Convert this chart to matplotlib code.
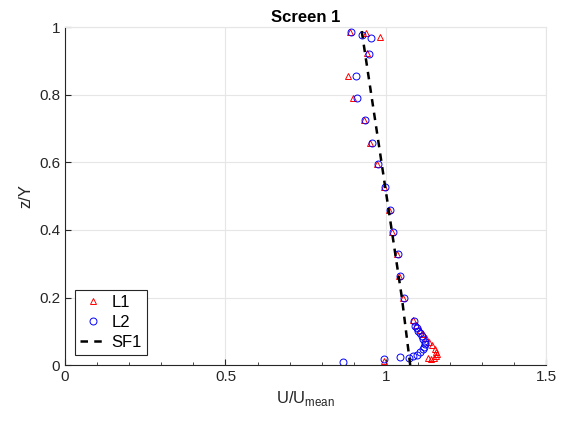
import numpy as np
import matplotlib
matplotlib.use('Agg')
from matplotlib import pyplot as plt
from matplotlib.ticker import MultipleLocator

plt.rcParams['font.family'] = ['Liberation Sans', 'DejaVu Sans']

# L1 (triangles)
l1_u = [0.889, 0.939, 0.982, 0.942, 0.882, 0.898, 0.932, 0.951, 0.973, 0.995,
        1.010, 1.020, 1.035, 1.041, 1.054, 1.085, 1.095, 1.105, 1.115, 1.125,
        1.135, 1.145, 1.153, 1.158, 1.160, 1.158, 1.150, 1.140, 1.130, 0.995]
l1_z = [0.985, 0.982, 0.970, 0.923, 0.855, 0.790, 0.725, 0.657, 0.595, 0.527,
        0.459, 0.393, 0.328, 0.263, 0.198, 0.133, 0.118, 0.104, 0.092, 0.080,
        0.068, 0.058, 0.048, 0.040, 0.032, 0.026, 0.021, 0.017, 0.022, 0.012]

# L2 (circles)
l2_u = [0.891, 0.926, 0.954, 0.948, 0.907, 0.910, 0.935, 0.957, 0.976, 0.997,
        1.012, 1.022, 1.037, 1.043, 1.056, 1.088, 1.091, 1.097, 1.100, 1.106,
        1.112, 1.115, 1.122, 1.122, 1.119, 1.116, 1.107, 1.097, 1.085, 1.073,
        1.045, 0.995, 0.867]
l2_z = [0.985, 0.976, 0.967, 0.920, 0.855, 0.790, 0.725, 0.657, 0.595, 0.527,
        0.459, 0.393, 0.328, 0.263, 0.198, 0.130, 0.115, 0.109, 0.101, 0.095,
        0.087, 0.078, 0.069, 0.062, 0.053, 0.047, 0.038, 0.031, 0.026, 0.020,
        0.024, 0.017, 0.009]

# SF1 profile
sf_u = [1.076, 1.050, 0.923]
sf_z = [0.0, 0.200, 1.0]

fig = plt.figure(figsize=(5.66, 4.25), dpi=100)
ax = fig.add_axes([0.115, 0.141, 0.85, 0.795])

ax.plot(l1_u, l1_z, '^', mfc='none', mec='#ff0000', ms=5, mew=0.7, label='L1')
ax.plot(l2_u, l2_z, 'o', mfc='none', mec='#0000ff', ms=5, mew=0.7, label='L2')
ax.plot(sf_u, sf_z, '--', color='black', lw=1.8, dashes=(3, 2.5), label='SF1')

ax.set_xlim(0, 1.5)
ax.set_ylim(0, 1)
ax.set_xticks([0, 0.5, 1, 1.5])
ax.set_xticklabels(['0', '0.5', '1', '1.5'])
ax.set_yticks(np.arange(0, 1.01, 0.2))
ax.set_yticklabels(['0', '0.2', '0.4', '0.6', '0.8', '1'])
ax.xaxis.set_minor_locator(MultipleLocator(0.1))
ax.grid(True, color='#e6e6e6', lw=0.8)
ax.set_axisbelow(True)
ax.tick_params(direction='in', labelsize=11, colors='#262626', length=4)
ax.tick_params(which='minor', direction='in', length=2, color='#262626')
for s in ['top', 'right']:
    ax.spines[s].set_color('#e6e6e6')
for s in ['left', 'bottom']:
    ax.spines[s].set_color('#262626')

ax.set_title('Screen 1', fontsize=12, fontweight='bold', pad=4)
ax.set_xlabel(r'U/U$_{\mathregular{mean}}$', fontsize=12, color='#262626')
ax.set_ylabel('z/Y', fontsize=12, color='#262626')

leg = ax.legend(loc='lower left', fontsize=12, fancybox=False, edgecolor='#262626',
                handlelength=1.6, handletextpad=0.3, borderpad=0.3,
                labelspacing=0.3, borderaxespad=0.6, framealpha=1)
leg.get_frame().set_linewidth(0.8)

fig.savefig('out.png', dpi=100)
